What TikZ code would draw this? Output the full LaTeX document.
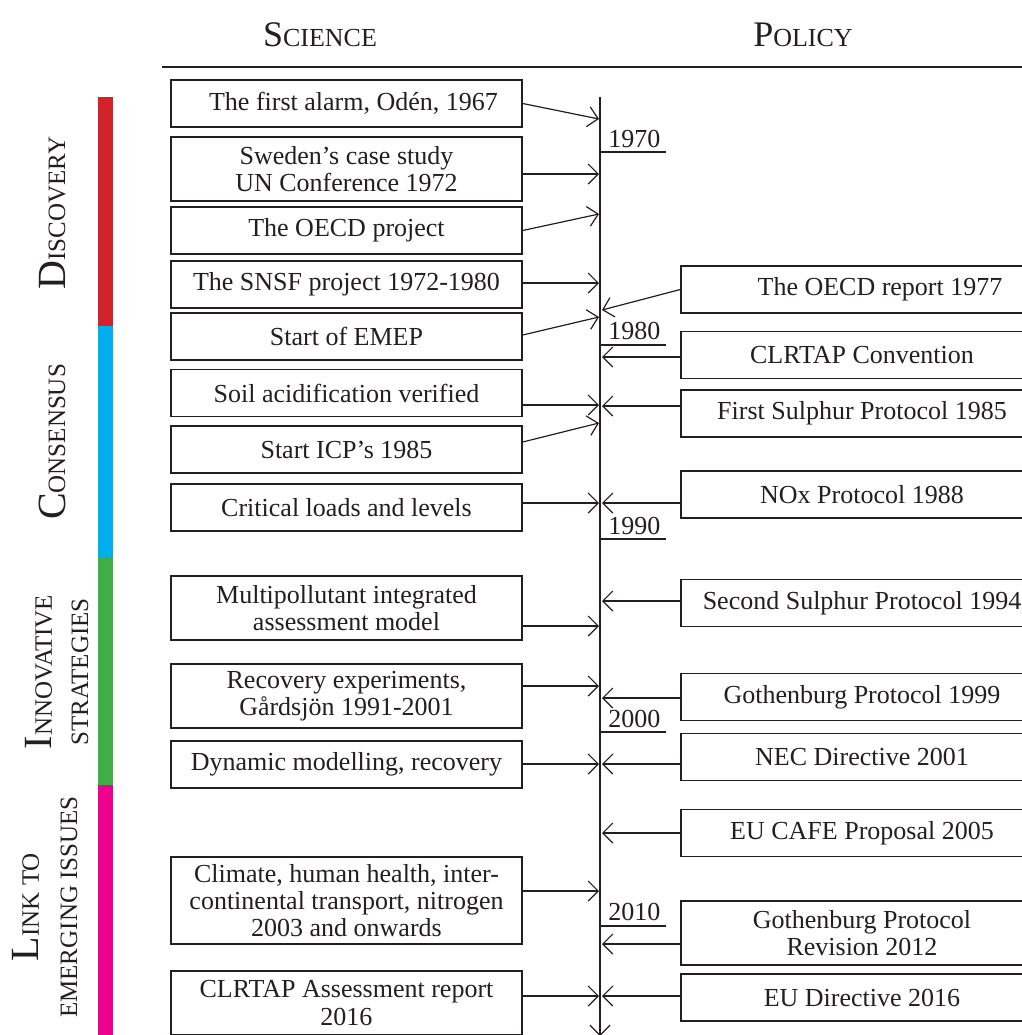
\documentclass[tikz,border=0pt]{standalone}
\usepackage{fontspec}
\setmainfont{Liberation Serif}
\usetikzlibrary{arrows.meta}
\definecolor{cred}{HTML}{D2232A}
\definecolor{cblue}{HTML}{00AEEF}
\definecolor{cgreen}{HTML}{3FAE49}
\definecolor{cmag}{HTML}{EC008C}
\definecolor{ink}{HTML}{231F20}
\newcommand\scA[2]{{\fontsize{20pt}{20pt}\selectfont #1}{\fontsize{12.5pt}{12.5pt}\selectfont #2}}
\newcommand\scH[2]{{\fontsize{18pt}{18pt}\selectfont #1}{\fontsize{13pt}{13pt}\selectfont #2}}
\begin{document}
\begin{tikzpicture}[x=0.5pt,y=-0.5pt,
  box/.style={draw=ink, line width=0.7pt, align=center, inner sep=0pt, text=ink,
    font=\fontsize{13pt}{13.6pt}\selectfont},
  lbox/.style={box, minimum width=175.5pt},
  rbox/.style={box, minimum width=181pt},
  h1/.style={minimum height=23.5pt},
  h2/.style={minimum height=32pt},
  h3/.style={minimum height=43.5pt},
  arr/.style={draw=ink, line width=0.6pt, -{Straight Barb[length=5pt,width=10pt,line width=0.6pt]}},
  yr/.style={anchor=base west, inner sep=0pt, text=ink, font=\fontsize{13pt}{13pt}\selectfont},
  tick/.style={draw=ink, line width=0.6pt},
  side/.style={rotate=90, anchor=base, inner sep=0pt, text=ink},
  head/.style={anchor=base, inner sep=0pt, text=ink}]
\useasboundingbox (0,0) rectangle (1022,1035);
\fill[white] (0,0) rectangle (1022,1035);
\clip (0,0) rectangle (1022,1035);

% headers
\node[head] (hsci) at (320,46) {\scH{S}{CIENCE}};
\node[head] (hpol) at (803,46) {\scH{P}{OLICY}};
\draw[ink, line width=1.1pt] (162,67) -- (1022,67);

% colour bar
\fill[cred] (98,97) rectangle (113,326);
\fill[cblue] (98,326) rectangle (113,557);
\fill[cgreen] (98,557) rectangle (113,785);
\fill[cmag] (98,785) rectangle (113,1035);

% phase labels
\node[side] (pdis) at (65,213) {\scA{D}{ISCOVERY}};
\node[side] (pcon) at (65,442) {\scA{C}{ONSENSUS}};
\node[side] (pinn1) at (52,672) {\scA{I}{NNOVATIVE}};
\node[side] (pinn2) at (88,672) {{\fontsize{12.5pt}{12.5pt}\selectfont STRATEGIES}};
\node[side] (plnk1) at (39,907) {\scA{L}{INK TO}};
\node[side] (plnk2) at (77,907) {{\fontsize{12.5pt}{12.5pt}\selectfont EMERGING ISSUES}};

% timeline
\coordinate (ttop) at (600,97);
\coordinate (tbot) at (600,1036);
\draw[ink, line width=1pt, -{Straight Barb[length=5pt,width=10pt,line width=0.6pt]}] (ttop) -- (tbot);

% years
\node[yr] (y70) at (608,147) {1970};
\draw[tick] (600,152) -- (666,152);
\node[yr] (y80) at (608,339) {1980};
\draw[tick] (600,345) -- (666,345);
\node[yr] (y90) at (608,534) {1990};
\draw[tick] (600,539) -- (666,539);
\node[yr] (y00) at (608,727) {2000};
\draw[tick] (600,732) -- (666,732);
\node[yr] (y10) at (608,920) {2010};
\draw[tick] (600,926) -- (666,926);

% science boxes
\node[lbox,h1] (L1) at (346.5,103.5) {\hspace*{7pt}The first alarm, Odén, 1967};
\node[lbox,h2] (L2) at (346.5,169) {Sweden’s case study\\UN Conference 1972};
\node[lbox,h1] (L3) at (346.5,230.5) {The OECD project};
\node[lbox,h1] (L4) at (346.5,284.5) {The SNSF project 1972-1980};
\node[lbox,h1] (L5) at (346.5,336.5) {Start of EMEP};
\node[lbox,h1] (L6) at (346.5,393) {Soil acidification verified};
\node[lbox,h1] (L7) at (346.5,449.5) {Start ICP’s 1985};
\node[lbox,h1] (L8) at (346.5,507.5) {Critical loads and levels};
\node[lbox,h2] (L9) at (346.5,608) {Multipollutant integrated\\assessment model};
\node[lbox,h2] (L10) at (346.5,696) {Recovery experiments,\\Gårdsjön 1991-2001};
\node[lbox,h1] (L11) at (346.5,764.5) {Dynamic modelling, recovery};
\node[lbox,h3] (L12) at (346.5,900.5) {Climate, human health, inter-\\continental transport, nitrogen\\2003 and onwards};
\node[lbox,h2] (L13) at (346.5,1003) {CLRTAP Assessment report\\2016};

% policy boxes
\node[rbox,h1] (RA) at (862,289.5) {\hspace*{18pt}The OECD report 1977};
\node[rbox,h1] (RB) at (862,355) {CLRTAP Convention};
\node[rbox,h1] (RC) at (862,413.5) {First Sulphur Protocol 1985};
\node[rbox,h1] (RD) at (862,494.5) {NOx Protocol 1988};
\node[rbox,h1] (RE) at (862,603) {Second Sulphur Protocol 1994};
\node[rbox,h1] (RF) at (862,697) {Gothenburg Protocol 1999};
\node[rbox,h1] (RG) at (862,757) {NEC Directive 2001};
\node[rbox,h1] (RH) at (862,833) {EU CAFE Proposal 2005};
\node[rbox,h2] (RI) at (862,933) {Gothenburg Protocol\\Revision 2012};
\node[rbox,h1] (RJ) at (862,997.5) {EU Directive 2016};

% timeline anchor points (left side tips)
\coordinate (a1) at (599,119);
\coordinate (a2) at (599,174);
\coordinate (a3) at (599,214);
\coordinate (a4) at (599,283);
\coordinate (a5) at (599,317);
\coordinate (a6) at (599,405);
\coordinate (a7) at (599,423);
\coordinate (a8) at (599,503);
\coordinate (a9) at (599,626);
\coordinate (a10) at (599,686);
\coordinate (a11) at (599,764);
\coordinate (a12) at (599,891);
\coordinate (a13) at (599,996);
% right side tips
\coordinate (bA) at (602,310);
\coordinate (bB) at (602,357);
\coordinate (bC) at (602,406);
\coordinate (bD) at (602,503);
\coordinate (bE) at (602,601);
\coordinate (bF) at (602,698);
\coordinate (bG) at (602,764);
\coordinate (bH) at (602,833);
\coordinate (bI) at (602,944);
\coordinate (bJ) at (602,996);

% science connectors
\draw[arr] (L1.east) -- (a1);
\draw[arr] (L2.east |- a2) -- (a2);
\draw[arr] (L3.east) -- (a3);
\draw[arr] (L4.east |- a4) -- (a4);
\draw[arr] ([yshift=0.75pt]L5.east) -- (a5);
\draw[arr] (L6.east |- a6) -- (a6);
\draw[arr] ([yshift=3.75pt]L7.east) -- (a7);
\draw[arr] (L8.east |- a8) -- (a8);
\draw[arr] (L9.east |- a9) -- (a9);
\draw[arr] (L10.east |- a10) -- (a10);
\draw[arr] (L11.east |- a11) -- (a11);
\draw[arr] (L12.east |- a12) -- (a12);
\draw[arr] (L13.east |- a13) -- (a13);

% policy connectors
\draw[arr] (RA.west) -- (bA);
\draw[arr] (RB.west |- bB) -- (bB);
\draw[arr] (RC.west |- bC) -- (bC);
\draw[arr] (RD.west |- bD) -- (bD);
\draw[arr] (RE.west |- bE) -- (bE);
\draw[arr] (RF.west |- bF) -- (bF);
\draw[arr] (RG.west |- bG) -- (bG);
\draw[arr] (RH.west |- bH) -- (bH);
\draw[arr] (RI.west |- bI) -- (bI);
\draw[arr] (RJ.west |- bJ) -- (bJ);
\end{tikzpicture}
\end{document}
